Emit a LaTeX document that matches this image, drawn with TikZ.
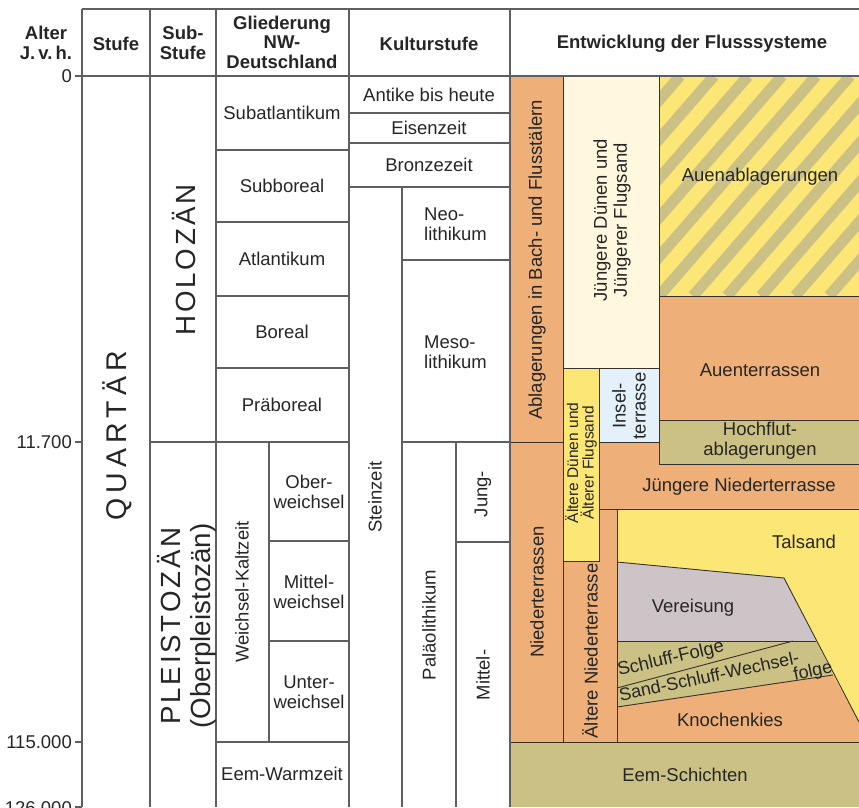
\documentclass[tikz,border=0pt]{standalone}
\usepackage{fontspec}
\setmainfont{Liberation Sans}
\newfontfamily\wideq[LetterSpace=18]{Liberation Sans}
\newfontfamily\wides[LetterSpace=10]{Liberation Sans}

\definecolor{terr}{RGB}{238,176,120}
\definecolor{sand}{RGB}{252,230,118}
\definecolor{dune}{RGB}{255,248,222}
\definecolor{silt}{RGB}{204,193,132}
\definecolor{isle}{RGB}{228,240,250}
\definecolor{ice}{RGB}{204,196,198}
\definecolor{rule}{RGB}{95,95,95}
\definecolor{edge}{RGB}{55,50,45}

\tikzset{
  rulel/.style={draw=rule, line width=1.1pt},
  edgel/.style={draw=edge, line width=0.9pt},
  txt/.style={font=\fontsize{18.5}{20}\selectfont, inner sep=0pt, align=center, text=black!85},
  hdr/.style={txt, font=\fontsize{18.5}{19.5}\selectfont\bfseries},
  vtxt/.style={txt, rotate=90},
  age/.style={txt, anchor=east},
}

\begin{document}
\begin{tikzpicture}[x=1pt,y=-1pt]
  \useasboundingbox (0,0) rectangle (859,807);
  % River column fills
  \fill[terr] (510,76) rectangle (859,742);
  \fill[dune] (563,76) rectangle (659,368);
  \fill[sand] (563,368) rectangle (599,561);
  \fill[isle] (599,368) rectangle (659,442);
  \fill[silt] (659,420) rectangle (859,464);
  \fill[sand] (617,509) rectangle (859,742);
  \fill[ice] (617,562) -- (784,578) -- (816,641) -- (617,641) -- cycle;
  \fill[silt] (617,641) -- (816,641) -- (833,675) -- (617,707) -- cycle;
  \fill[terr] (617,707) -- (833,675) -- (859,722) -- (859,742) -- (617,742) -- cycle;
  \fill[silt] (510,742) rectangle (859,807);
  % Striped Auenablagerungen
  \begin{scope}
    \clip (659,76) rectangle (859,296);
    \fill[sand] (659,76) rectangle (859,296);
    \foreach \i in {-7,...,7}
      \draw[silt, line width=11pt] (659+\i*34,296) -- ++(191,-220);
  \end{scope}
  % River column outlines
  \draw[edgel] (563,76) -- (563,742);
  \draw[edgel] (510,442) -- (563,442);
  \draw[edgel] (659,76) -- (659,464);
  \draw[edgel] (563,368) -- (659,368);
  \draw[edgel] (659,296) -- (859,296);
  \draw[edgel] (659,420) -- (859,420);
  \draw[edgel] (659,464) -- (859,464);
  \draw[edgel] (599,368) -- (599,561) -- (563,561);
  \draw[edgel] (599,442) -- (659,442);
  \draw[edgel] (599,509) -- (859,509);
  \draw[edgel] (617,509) -- (617,742);
  \draw[edgel] (617,562) -- (784,578) -- (859,722);
  \draw[edgel] (617,641) -- (816,641);
  \draw[edgel] (617,688) -- (793,641);
  \draw[edgel] (617,707) -- (833,675);
  \draw[edgel] (510,742) -- (859,742);
  % Table frame
  \draw[rulel] (82,9) -- (859,9);
  \draw[rulel] (82,76) -- (859,76);
  \foreach \x in {82,150,216,349,510}
    \draw[rulel] (\x,9) -- (\x,807);
  \foreach \y in {76,442,742,807}
    \draw[rulel] (75,\y) -- (82,\y);
  % Sub-Stufe and Gliederung
  \draw[rulel] (150,442) -- (349,442);
  \foreach \y in {150,222,296,368}
    \draw[rulel] (216,\y) -- (349,\y);
  \draw[rulel] (269,442) -- (269,742);
  \draw[rulel] (269,541) -- (349,541);
  \draw[rulel] (269,641) -- (349,641);
  \draw[rulel] (216,742) -- (349,742);
  % Kulturstufe
  \foreach \y in {113,143,187}
    \draw[rulel] (349,\y) -- (510,\y);
  \draw[rulel] (402,187) -- (402,807);
  \draw[rulel] (402,260) -- (510,260);
  \draw[rulel] (402,442) -- (510,442);
  \draw[rulel] (456,442) -- (456,807);
  \draw[rulel] (456,542) -- (510,542);
  % Header
  \node[hdr] (hAlter) at (46,43) {Alter\\J.\,v.\,h.};
  \node[hdr] (hStufe) at (116,44) {Stufe};
  \node[hdr] (hSub) at (183,43) {Sub-\\Stufe};
  \node[hdr] (hGlied) at (282,42) {Gliederung\\NW-\\Deutschland};
  \node[hdr] (hKultur) at (429,44) {Kulturstufe};
  \node[hdr] (hFluss) at (692,44) {Entwicklung der Flusssysteme};
  % Ages
  \node[age] (a0) at (72,76) {0};
  \node[age] (a11) at (72,442) {11.700};
  \node[age] (a115) at (72,742) {115.000};
  \node[age] (a126) at (72,808) {126.000};
  % Stufe and Sub-Stufe
  \node[vtxt, font=\fontsize{28.5}{30}\wideq] (quartaer) at (117,436) {QUARTÄR};
  \node[vtxt, font=\fontsize{27.7}{30}\wides] (holozaen) at (184,260) {HOLOZÄN};
  \node[vtxt, font=\fontsize{27.7}{30}\selectfont] (pleisto) at (187,626) {{\wides PLEISTOZÄN}\\(Oberpleistozän)};
  % Gliederung NW-Deutschland
  \node[txt] (subatl) at (282,113) {Subatlantikum};
  \node[txt] (subbor) at (282,186) {Subboreal};
  \node[txt] (atlant) at (282,259) {Atlantikum};
  \node[txt] (boreal) at (282,332) {Boreal};
  \node[txt] (praebor) at (282,405) {Präboreal};
  \node[vtxt] (weichsel) at (242,592) {Weichsel-Kaltzeit};
  \node[txt] (oberw) at (309,492) {Ober-\\weichsel};
  \node[txt] (mittelw) at (309,592) {Mittel-\\weichsel};
  \node[txt] (unterw) at (309,692) {Unter-\\weichsel};
  \node[txt] (eem) at (282,774) {Eem-Warmzeit};
  % Kulturstufe
  \node[txt] (antike) at (429,95) {Antike bis heute};
  \node[txt] (eisen) at (429,128) {Eisenzeit};
  \node[txt] (bronze) at (429,165) {Bronzezeit};
  \node[txt, anchor=west, align=left] (neo) at (424,224) {Neo-\\lithikum};
  \node[txt, anchor=west, align=left] (meso) at (424,352) {Meso-\\lithikum};
  \node[vtxt] (stein) at (375,497) {Steinzeit};
  \node[vtxt] (palaeo) at (429,625) {Paläolithikum};
  \node[vtxt] (jung) at (483,494) {Jung-};
  \node[vtxt] (mittel) at (483,675) {Mittel-};
  % Entwicklung der Flusssysteme
  \node[vtxt] (bach) at (537,260) {Ablagerungen in Bach- und Flusstälern};
  \node[vtxt] (nieder) at (537,592) {Niederterrassen};
  \node[vtxt] (jdune) at (612,220) {Jüngere Dünen und\\Jüngerer Flugsand};
  \node[vtxt, font=\fontsize{15.5}{15.5}\selectfont] (adune) at (581,463) {Ältere Dünen und\\Älterer Flugsand};
  \node[vtxt] (insel) at (629,406) {Insel-\\terrasse};
  \node[txt] (auenabl) at (760,177) {Auenablagerungen};
  \node[txt] (auenter) at (760,370) {Auenterrassen};
  \node[txt] (hochflut) at (760,441) {Hochflut-\\ablagerungen};
  \node[txt] (jnieder) at (739,487) {Jüngere Niederterrasse};
  \node[vtxt] (anieder) at (590,651) {Ältere Niederterrasse};
  \node[txt] (talsand) at (804,542) {Talsand};
  \node[txt] (vereis) at (693,608) {Vereisung};
  \node[txt, rotate=13] (schluff) at (671,659) {Schluff-Folge};
  \node[txt, rotate=12, font=\fontsize{18}{20}\selectfont] (sandsch) at (709,676) {Sand-Schluff-Wechsel-};
  \node[txt, rotate=12, font=\fontsize{18}{20}\selectfont] (folge) at (813,672) {folge};
  \node[txt] (knochen) at (730,720) {Knochenkies};
  \node[txt] (eemsch) at (685,775) {Eem-Schichten};
\end{tikzpicture}
\end{document}
